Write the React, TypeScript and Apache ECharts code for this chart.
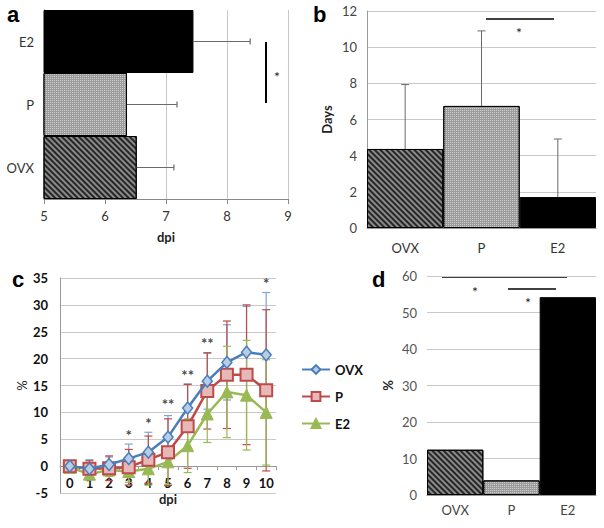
import React, { useEffect, useRef } from "react";
import * as echarts from "echarts";

// ---- Data ----
const groups = ["OVX", "P", "E2"];

// panel a: onset (dpi), mean and SD
const dpiMeanA = [6.52, 6.36, 7.45];
const dpiErrA = [0.61, 0.82, 0.93];

// panel b: days
const daysMeanB = [4.37, 6.75, 1.71];
const daysErrB = [3.56, 4.15, 3.21];

// panel c: % over dpi
const dpiC = ["0", "1", "2", "3", "4", "5", "6", "7", "8", "9", "10"];
const ovxC = [0, -0.5, 0.3, 1.4, 2.6, 5.4, 10.8, 15.8, 19.3, 21.2, 20.7];
const pC = [0, -0.5, -0.4, -0.2, 1.2, 2.6, 7.4, 14.0, 17.0, 17.0, 14.1];
const e2C = [-0.2, -1.5, -0.7, -1.0, -0.5, 0.8, 3.8, 9.7, 13.8, 13.2, 10.0];
const ovxSdC = [0, 1.7, 1.4, 2.7, 3.7, 4.0, 4.5, 5.2, 7.0, 8.5, 11.6];
const pSdC = [0, 1.5, 2.3, 3.3, 4.4, 6.2, 7.8, 7.1, 10.0, 13.0, 15.0];
const e2SdC = [0, 1.0, 1.2, 2.0, 3.0, 4.2, 5.0, 5.3, 8.5, 10.2, 9.8];
// significance marks in panel c: [dpi index, y position, text]
const sigC: [number, number, string][] = [
  [3, 5.8, "*"],
  [4, 8.1, "*"],
  [5, 11.5, "**"],
  [6, 16.9, "**"],
  [7, 23.0, "**"],
  [10, 34.0, "*"],
];

// panel d: %
const pctD = [12.4, 4.0, 54.2];

const FONT = "Lato, 'Open Sans', sans-serif";
const GRID = "#c9c9c9";

const hatchOVX = {
  symbol: "rect",
  symbolSize: 1,
  color: "rgba(20,20,20,0.85)",
  dashArrayX: [1, 0],
  dashArrayY: [1.5, 1.5],
  rotation: Math.PI / 4,
};
const hatchP = {
  symbol: "rect",
  symbolSize: 1,
  color: "rgba(255,255,255,0.5)",
  dashArrayX: [1, 1],
  dashArrayY: [1, 1],
  rotation: 0,
};

const barStyle = (i: number) => {
  if (i === 0)
    return { color: "#8a8a8a", borderColor: "#000", borderWidth: 1, decal: hatchOVX };
  if (i === 1)
    return { color: "#9c9c9c", borderColor: "#000", borderWidth: 1, decal: hatchP };
  return { color: "#000", borderColor: "#000", borderWidth: 1 };
};

const errColor = "#6b6b6b";

export default function App() {
  const ref = useRef<HTMLDivElement>(null);
  useEffect(() => {
    if (!ref.current) return;
    const chart = echarts.init(ref.current, null, { renderer: "svg" });

    const errH = (params: any, api: any) => {
      const v = api.value(0), c = api.value(1), e = api.value(2);
      const p0 = api.coord([v, c]);
      const p1 = api.coord([v + e, c]);
      const st = { stroke: errColor, lineWidth: 1.2 };
      return {
        type: "group",
        children: [
          { type: "line", shape: { x1: p0[0], y1: p0[1], x2: p1[0], y2: p1[1] }, style: st },
          { type: "line", shape: { x1: p1[0], y1: p1[1] - 3, x2: p1[0], y2: p1[1] + 3 }, style: st },
        ],
      };
    };
    const errV = (params: any, api: any) => {
      const c = api.value(0), v = api.value(1), e = api.value(2);
      const p0 = api.coord([c, v]);
      const p1 = api.coord([c, v + e]);
      const st = { stroke: errColor, lineWidth: 1 };
      return {
        type: "group",
        children: [
          { type: "line", shape: { x1: p0[0], y1: p0[1], x2: p1[0], y2: p1[1] }, style: st },
          { type: "line", shape: { x1: p1[0] - 4, y1: p1[1], x2: p1[0] + 4, y2: p1[1] }, style: st },
        ],
      };
    };
    const errC = (color: string) => (params: any, api: any) => {
      const c = api.value(0), v = api.value(1), e = api.value(2);
      const t = api.coord([c, v + e]);
      const b = api.coord([c, v - e]);
      const st = { stroke: color, lineWidth: 1.2 };
      return {
        type: "group",
        children: [
          { type: "line", shape: { x1: t[0], y1: t[1], x2: b[0], y2: b[1] }, style: st },
          { type: "line", shape: { x1: t[0] - 4, y1: t[1], x2: t[0] + 4, y2: t[1] }, style: st },
          { type: "line", shape: { x1: b[0] - 4, y1: b[1], x2: b[0] + 4, y2: b[1] }, style: st },
        ],
      };
    };

    const blue = "#4a7ebb", red = "#be4b48", green = "#98b954";
    // panel c: the dpi axis sits on the y = 0 line
    const cHeight = 215, cMin = -5, cMax = 35;
    const cZeroOffset = -((0 - cMin) / (cMax - cMin)) * cHeight;

    const option: any = {
      animation: false,
      textStyle: { fontFamily: FONT },
      grid: [
        { left: 44, top: 10, width: 244, height: 189 },
        { left: 367, top: 11, width: 229, height: 217 },
        { left: 60, top: 278, width: 216, height: cHeight },
        { left: 427, top: 276, width: 169, height: 219 },
      ],
      xAxis: [
        {
          gridIndex: 0, type: "value", min: 5, max: 9, interval: 1,
          axisLine: { show: true, lineStyle: { color: "#888" } },
          axisTick: { show: true, length: 5, lineStyle: { color: "#888" } },
          splitLine: { show: true, lineStyle: { color: GRID } },
          axisLabel: { color: "#333", fontSize: 13, margin: 10 },
          name: "dpi", nameLocation: "middle", nameGap: 31,
          nameTextStyle: { fontWeight: "bold", fontSize: 13, color: "#222" },
        },
        {
          gridIndex: 1, type: "category", data: groups,
          axisLine: { show: true, lineStyle: { color: "#999" } },
          axisTick: { show: false },
          axisLabel: { color: "#333", fontSize: 13, margin: 13 },
        },
        {
          gridIndex: 2, type: "category", data: dpiC, boundaryGap: true,
          offset: cZeroOffset,
          axisLine: { show: true, onZero: false, lineStyle: { color: "#999" } },
          axisTick: { show: true, length: 4, lineStyle: { color: "#999" } },
          axisLabel: { color: "#111", fontSize: 13, fontWeight: "bold", margin: 10, interval: 0 },
          name: "dpi", nameLocation: "middle", nameGap: 26,
          nameTextStyle: { fontWeight: "bold", fontSize: 13, color: "#222" },
        },
        {
          gridIndex: 3, type: "category", data: groups,
          axisLine: { show: true, lineStyle: { color: "#999" } },
          axisTick: { show: false },
          axisLabel: { color: "#444", fontSize: 13, margin: 8 },
        },
      ],
      yAxis: [
        {
          gridIndex: 0, type: "category", data: groups,
          axisLine: { show: true, lineStyle: { color: "#555" } },
          axisTick: { show: false },
          axisLabel: { color: "#333", fontSize: 13, margin: 10 },
        },
        {
          gridIndex: 1, type: "value", min: 0, max: 12, interval: 2,
          axisLine: { show: true, lineStyle: { color: "#999" } },
          splitLine: { show: true, lineStyle: { color: GRID } },
          axisLabel: { color: "#444", fontSize: 13, margin: 10 },
          name: "Days", nameLocation: "middle", nameGap: 34,
          nameTextStyle: { fontWeight: "bold", fontSize: 13, color: "#222" },
        },
        {
          gridIndex: 2, type: "value", min: cMin, max: cMax, interval: 5,
          axisLine: { show: true, lineStyle: { color: "#999" } },
          splitLine: { show: true, lineStyle: { color: GRID } },
          axisLabel: { color: "#111", fontSize: 13, fontWeight: "bold", margin: 12 },
          name: "%", nameLocation: "middle", nameGap: 32,
          nameTextStyle: { fontSize: 13, color: "#222" },
        },
        {
          gridIndex: 3, type: "value", min: 0, max: 60, interval: 10,
          axisLine: { show: false },
          splitLine: { show: true, lineStyle: { color: GRID } },
          axisLabel: { color: "#555", fontSize: 13, margin: 10 },
          name: "%", nameLocation: "middle", nameGap: 33,
          nameTextStyle: { fontWeight: "bold", fontSize: 13, color: "#222" },
        },
      ],
      legend: {
        data: ["OVX", "P", "E2"],
        orient: "vertical",
        left: 296,
        top: 358,
        itemWidth: 28,
        itemHeight: 11,
        itemGap: 14,
        textStyle: { fontWeight: "bold", fontSize: 13, color: "#111", fontFamily: FONT },
      },
      series: [
        // panel a
        {
          type: "bar", xAxisIndex: 0, yAxisIndex: 0, barCategoryGap: "0%",
          data: dpiMeanA.map((v, i) => ({ value: v, itemStyle: barStyle(i) })),
        },
        {
          type: "custom", xAxisIndex: 0, yAxisIndex: 0, renderItem: errH, z: 5,
          encode: { x: 0, y: 1 },
          data: dpiMeanA.map((v, i) => [v, i, dpiErrA[i]]),
        },
        // panel b
        {
          type: "bar", xAxisIndex: 1, yAxisIndex: 1, barCategoryGap: "0%",
          data: daysMeanB.map((v, i) => ({ value: v, itemStyle: barStyle(i) })),
        },
        {
          type: "custom", xAxisIndex: 1, yAxisIndex: 1, renderItem: errV, z: 5,
          encode: { x: 0, y: 1 },
          data: daysMeanB.map((v, i) => [i, v, daysErrB[i]]),
        },
        // panel c error bars
        {
          type: "custom", xAxisIndex: 2, yAxisIndex: 2, renderItem: errC("#7fa3d3"), z: 1,
          encode: { x: 0, y: 1 }, data: ovxC.map((v, i) => [i, v, ovxSdC[i]]),
        },
        {
          type: "custom", xAxisIndex: 2, yAxisIndex: 2, renderItem: errC(red), z: 1,
          encode: { x: 0, y: 1 }, data: pC.map((v, i) => [i, v, pSdC[i]]),
        },
        {
          type: "custom", xAxisIndex: 2, yAxisIndex: 2, renderItem: errC(green), z: 1,
          encode: { x: 0, y: 1 }, data: e2C.map((v, i) => [i, v, e2SdC[i]]),
        },
        // panel c lines
        {
          name: "E2", type: "line", xAxisIndex: 2, yAxisIndex: 2, data: e2C, z: 3,
          symbol: "triangle", symbolSize: 12,
          lineStyle: { color: green, width: 2.5 },
          itemStyle: { color: green, borderColor: green, borderWidth: 1 },
        },
        {
          name: "P", type: "line", xAxisIndex: 2, yAxisIndex: 2, data: pC, z: 4,
          symbol: "rect", symbolSize: 12,
          lineStyle: { color: red, width: 2.5 },
          itemStyle: { color: "#e6b9b8", borderColor: red, borderWidth: 2 },
        },
        {
          name: "OVX", type: "line", xAxisIndex: 2, yAxisIndex: 2, data: ovxC, z: 5,
          symbol: "diamond", symbolSize: [10, 12],
          lineStyle: { color: blue, width: 2.5 },
          itemStyle: { color: "#b9cde5", borderColor: blue, borderWidth: 1.5 },
        },
        {
          type: "scatter", xAxisIndex: 2, yAxisIndex: 2, symbolSize: 1, z: 6,
          itemStyle: { color: "transparent" },
          label: {
            show: true, position: "inside", color: "#111", fontSize: 15, fontWeight: "bold",
            formatter: (p: any) => p.data[2],
          },
          data: sigC.map((s) => [s[0], s[1], s[2]]),
        },
        // panel d
        {
          type: "bar", xAxisIndex: 3, yAxisIndex: 3, barCategoryGap: "0%",
          data: pctD.map((v, i) => ({ value: v, itemStyle: barStyle(i) })),
        },
      ],
      graphic: [
        { type: "text", left: 7, top: 3, style: { text: "a", font: "bold 22px 'Liberation Sans', Arial", fill: "#000" } },
        { type: "text", left: 313, top: 3, style: { text: "b", font: "bold 22px 'Liberation Sans', Arial", fill: "#000" } },
        { type: "text", left: 12, top: 268, style: { text: "c", font: "bold 22px 'Liberation Sans', Arial", fill: "#000" } },
        { type: "text", left: 372, top: 268, style: { text: "d", font: "bold 22px 'Liberation Sans', Arial", fill: "#000" } },
        // panel a significance
        { type: "line", shape: { x1: 266, y1: 42, x2: 266, y2: 103 }, style: { stroke: "#000", lineWidth: 2 } },
        { type: "text", x: 277, y: 76, style: { text: "*", font: "14px " + FONT, fill: "#222", align: "center", verticalAlign: "middle" } },
        // panel b significance
        { type: "line", shape: { x1: 486, y1: 19, x2: 554, y2: 19 }, style: { stroke: "#000", lineWidth: 1.5 } },
        { type: "text", x: 519, y: 32, style: { text: "*", font: "14px " + FONT, fill: "#222", align: "center", verticalAlign: "middle" } },
        // panel d significance
        { type: "line", shape: { x1: 442, y1: 277, x2: 567, y2: 277 }, style: { stroke: "#000", lineWidth: 1.5 } },
        { type: "text", x: 475, y: 291, style: { text: "*", font: "14px " + FONT, fill: "#222", align: "center", verticalAlign: "middle" } },
        { type: "line", shape: { x1: 508, y1: 289, x2: 556, y2: 289 }, style: { stroke: "#000", lineWidth: 1.5 } },
        { type: "text", x: 528, y: 302, style: { text: "*", font: "14px " + FONT, fill: "#222", align: "center", verticalAlign: "middle" } },
      ],
    };
    chart.setOption(option);
    return () => chart.dispose();
  }, []);
  return (
    <div
      ref={ref}
      style={{ position: "fixed", left: 0, top: 0, width: 604, height: 528, background: "#fff" }}
    />
  );
}
